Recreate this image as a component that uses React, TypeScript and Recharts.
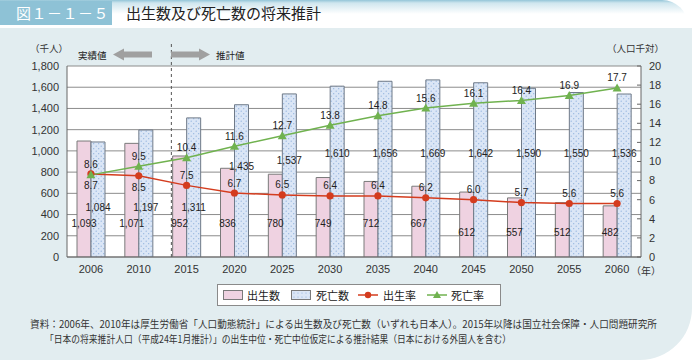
import React from 'react';
import {
  ComposedChart,
  Bar,
  Line,
  XAxis,
  YAxis,
  CartesianGrid,
  ReferenceLine,
  LabelList,
  Legend,
} from 'recharts';

// ---- data ----
const years = ['2006', '2010', '2015', '2020', '2025', '2030', '2035', '2040', '2045', '2050', '2055', '2060'];
const births = [1093, 1071, 952, 836, 780, 749, 712, 667, 612, 557, 512, 482];
const deaths = [1084, 1197, 1311, 1435, 1537, 1610, 1656, 1669, 1642, 1590, 1550, 1536];
const birthRate = [8.7, 8.5, 7.5, 6.7, 6.5, 6.4, 6.4, 6.2, 6.0, 5.7, 5.6, 5.6];
const deathRate = [8.6, 9.5, 10.4, 11.6, 12.7, 13.8, 14.8, 15.6, 16.1, 16.4, 16.9, 17.7];
const leftTicks = [0, 200, 400, 600, 800, 1000, 1200, 1400, 1600, 1800];
const rightTicks = [0, 2, 4, 6, 8, 10, 12, 14, 16, 18, 20];
const boundaryTicks = [1, 2, 3, 4, 5, 6, 7, 8, 9, 10, 11];
const splitIndex = 2; // boundary between actual (2006, 2010) and projected values

const data = years.map((y, i) => ({
  year: y,
  births: births[i],
  deaths: deaths[i],
  birthRate: birthRate[i],
  deathRate: deathRate[i],
}));

// ---- label styling (pixel lifts from the bar base) ----
const birthLabelLift = [34, 34, 34, 34, 34, 34, 34, 34, 25, 25, 25, 25];
const deathLabelLift = [50, 50, 50, 91, 97, 104, 104, 104, 104, 104, 104, 104];
const birthRateBelow = [true, true, false, false, false, false, false, false, false, false, false, false];

const PINK = '#efd2e1';
const BLUE = '#dbe6f6';
const RED = '#d43c1e';
const GREEN = '#70b24f';
const LATIN = '"Liberation Sans", Arial, sans-serif';
const CJK = '"Noto Sans CJK JP", "Noto Sans", sans-serif';

const fmt = (v: number) => v.toLocaleString('en-US');

const barLabel = (lift: number[]) => (p: any) => {
  const vb = p.viewBox || p;
  const x = Number(vb.x);
  const y = Number(vb.y);
  const w = Number(vb.width);
  const h = Number(vb.height);
  const bottom = y + h;
  return (
    <text
      x={x + w / 2}
      y={bottom - lift[p.index]}
      textAnchor="middle"
      dominantBaseline="central"
      fontSize={10}
      fontFamily={LATIN}
      fill="#222"
    >
      {fmt(Number(p.value))}
    </text>
  );
};

const rateLabel = (below: boolean[] | null) => (p: any) => {
  const isBelow = below ? below[p.index] : false;
  return (
    <text
      x={Number(p.x)}
      y={Number(p.y) + (isBelow ? 12 : -10)}
      textAnchor="middle"
      dominantBaseline="central"
      fontSize={10}
      fontFamily={LATIN}
      fill="#222"
    >
      {Number(p.value).toFixed(1)}
    </text>
  );
};

const Triangle = (p: any) => {
  const { cx, cy } = p;
  if (cx == null || cy == null) return <g />;
  return <path d={`M${cx},${cy - 4.5} L${cx + 4.5},${cy + 3.5} L${cx - 4.5},${cy + 3.5} Z`} fill={GREEN} />;
};

const Circle = (p: any) => {
  const { cx, cy } = p;
  if (cx == null || cy == null) return <g />;
  return <circle cx={cx} cy={cy} r={3.6} fill={RED} />;
};

const RightTick = (p: any) => (
  <g>
    <line x1={p.x - 12} x2={p.x - 8} y1={p.y} y2={p.y} stroke="#666" />
    <text x={p.x} y={p.y} dy="0.35em" textAnchor="start" fontSize={11} fontFamily={LATIN} fill="#333">
      {p.payload.value}
    </text>
  </g>
);

const LegendBox = () => (
  <svg width={284} height={22} style={{ display: 'block' }}>
    <defs>
      <pattern id="dotsL" width="4" height="4" patternUnits="userSpaceOnUse">
        <rect width="4" height="4" fill={BLUE} />
        <circle cx="1" cy="1" r="0.6" fill="#8fb0dc" />
      </pattern>
    </defs>
    <rect x={0.5} y={0.5} width={283} height={21} fill="#fff" stroke="#8a8a8a" />
    <rect x={6.5} y={6.5} width={19} height={9} fill={PINK} stroke="#7a7a7a" />
    <text x={30} y={11} dominantBaseline="central" fontSize={11} fontFamily={CJK} fill="#222">出生数</text>
    <rect x={74.5} y={6.5} width={19} height={9} fill="url(#dotsL)" stroke="#7a7a7a" />
    <text x={99} y={11} dominantBaseline="central" fontSize={11} fontFamily={CJK} fill="#222">死亡数</text>
    <line x1={141} x2={161} y1={11} y2={11} stroke={RED} strokeWidth={1.5} />
    <circle cx={151} cy={11} r={3.2} fill={RED} />
    <text x={166} y={11} dominantBaseline="central" fontSize={11} fontFamily={CJK} fill="#222">出生率</text>
    <line x1={210} x2={230} y1={11} y2={11} stroke={GREEN} strokeWidth={1.5} />
    <path d="M220,7 L224,14 L216,14 Z" fill={GREEN} />
    <text x={234} y={11} dominantBaseline="central" fontSize={11} fontFamily={CJK} fill="#222">死亡率</text>
  </svg>
);

export default function App() {
  return (
    <div
      style={{
        position: 'absolute',
        left: 0,
        top: 0,
        width: 694,
        height: 360,
        background: '#fff',
        overflow: 'hidden',
        fontFamily: CJK,
      }}
    >
      {/* light panel */}
      <div
        style={{
          position: 'absolute',
          left: 0,
          top: 28,
          width: 692,
          height: 332,
          background: '#e2edf0',
          borderBottomRightRadius: 52,
        }}
      />
      {/* title strip */}
      <div
        style={{
          position: 'absolute',
          left: 0,
          top: 0,
          width: 688,
          height: 26,
          background: 'linear-gradient(#93c5d8 0px, #cfe6ee 3px, #ffffff 14px)',
          borderTopRightRadius: 30,
        }}
      />
      <div
        style={{
          position: 'absolute',
          left: 0,
          top: 1,
          width: 112,
          height: 24,
          background: '#8ec2d6',
          color: '#fff',
          fontSize: 15,
          lineHeight: '24px',
          paddingLeft: 16,
          boxSizing: 'border-box',
          letterSpacing: 0.5,
        }}
      >
        図１－１－５
      </div>
      <div
        style={{
          position: 'absolute',
          left: 126,
          top: 1,
          height: 24,
          lineHeight: '24px',
          fontSize: 15,
          color: '#222',
          whiteSpace: 'nowrap',
        }}
      >
        出生数及び死亡数の将来推計
      </div>

      <div style={{ position: 'absolute', left: 0, top: 0 }}>
        <ComposedChart
          width={694}
          height={360}
          data={data}
          margin={{ top: 66, right: 0, bottom: 83, left: 0 }}
          barGap={0}
        >
          <defs>
            <pattern id="dots" width="5" height="5" patternUnits="userSpaceOnUse">
              <rect width="5" height="5" fill={BLUE} />
              <circle cx="1.2" cy="1.2" r="0.65" fill="#93b3de" />
              <circle cx="3.7" cy="3.7" r="0.65" fill="#93b3de" />
            </pattern>
          </defs>
          <CartesianGrid
            yAxisId="left"
            vertical={false}
            stroke="#8c8c8c"
            fill="#ffffff"
            fillOpacity={1}
          />
          <XAxis
            xAxisId="b"
            type="number"
            domain={[0, years.length]}
            allowDataOverflow
            ticks={boundaryTicks}
            interval={0}
            tickFormatter={() => ''}
            axisLine={false}
            tickLine={{ stroke: '#888' }}
            tickSize={4}
            mirror
            height={0}
          />
          <XAxis
            dataKey="year"
            axisLine={{ stroke: '#666' }}
            tickLine={false}
            height={20}
            tick={{ fontSize: 11, fill: '#333', fontFamily: LATIN }}
            interval={0}
          />
          <YAxis
            yAxisId="left"
            width={67}
            domain={[0, 1800]}
            ticks={leftTicks}
            interval={0}
            tickFormatter={(v: number) => fmt(v)}
            axisLine={{ stroke: '#666' }}
            tickLine={false}
            tick={{ fontSize: 11, fill: '#333', fontFamily: LATIN }}
            allowDataOverflow
          />
          <YAxis
            yAxisId="right"
            orientation="right"
            width={53}
            domain={[0, 20]}
            ticks={rightTicks}
            interval={0}
            axisLine={{ stroke: '#666' }}
            tickLine={false}
            tickSize={0}
            tickMargin={8}
            tick={<RightTick />}
          />
          <ReferenceLine
            xAxisId="b"
            yAxisId="left"
            segment={[
              { x: splitIndex, y: 0 },
              { x: splitIndex, y: 2010 },
            ]}
            ifOverflow="visible"
            stroke="#555"
            strokeDasharray="3 3"
          />
          <Bar yAxisId="left" dataKey="births" barSize={14} fill={PINK} stroke="#7a7a7a" strokeWidth={1} isAnimationActive={false}>
            <LabelList dataKey="births" content={barLabel(birthLabelLift)} />
          </Bar>
          <Bar yAxisId="left" dataKey="deaths" barSize={14} fill="url(#dots)" stroke="#6f7a88" strokeWidth={1} isAnimationActive={false}>
            <LabelList dataKey="deaths" content={barLabel(deathLabelLift)} />
          </Bar>
          <Line
            yAxisId="right"
            dataKey="birthRate"
            stroke={RED}
            strokeWidth={1.5}
            dot={<Circle />}
            activeDot={false}
            isAnimationActive={false}
          >
            <LabelList dataKey="birthRate" content={rateLabel(birthRateBelow)} />
          </Line>
          <Line
            yAxisId="right"
            dataKey="deathRate"
            stroke={GREEN}
            strokeWidth={1.5}
            dot={<Triangle />}
            activeDot={false}
            isAnimationActive={false}
          >
            <LabelList dataKey="deathRate" content={rateLabel(null)} />
          </Line>
          <Legend
            layout="horizontal"
            verticalAlign="middle"
            align="center"
            content={<LegendBox />}
            wrapperStyle={{ left: 217, top: 284, width: 284, height: 22 }}
          />
        </ComposedChart>
      </div>

      {/* annotations */}
      <svg
        width={694}
        height={360}
        style={{ position: 'absolute', left: 0, top: 0, pointerEvents: 'none' }}
      >
        <text x={30} y={48} dominantBaseline="central" fontSize={9.5} fontFamily={CJK} fill="#333">（千人）</text>
        <text x={664} y={48} dominantBaseline="central" textAnchor="end" fontSize={9.5} fontFamily={CJK} fill="#333">（人口千対）</text>
        <text x={78} y={55} dominantBaseline="central" fontSize={9.5} fontFamily={CJK} fill="#222">実績値</text>
        <text x={216} y={55} dominantBaseline="central" fontSize={9.5} fontFamily={CJK} fill="#222">推計値</text>
        <path d="M113,54.5 L124,48.5 L124,51.5 L152,51.5 L152,57.5 L124,57.5 L124,60.5 Z" fill="#a0a0a0" />
        <path d="M210,54.5 L199,48.5 L199,51.5 L171,51.5 L171,57.5 L199,57.5 L199,60.5 Z" fill="#a0a0a0" />
        <text x={631} y={270} dominantBaseline="central" fontSize={10} fontFamily={CJK} fill="#333">（年）</text>
        <text x={30} y={323} dominantBaseline="central" fontSize={10} fontFamily={CJK} fill="#333" textLength={627} lengthAdjust="spacingAndGlyphs">
          資料：2006年、2010年は厚生労働省「人口動態統計」による出生数及び死亡数（いずれも日本人）。2015年以降は国立社会保障・人口問題研究所
        </text>
        <text x={45} y={338} dominantBaseline="central" fontSize={10} fontFamily={CJK} fill="#333" textLength={466} lengthAdjust="spacingAndGlyphs">
          「日本の将来推計人口（平成24年1月推計）」の出生中位・死亡中位仮定による推計結果（日本における外国人を含む）
        </text>
      </svg>
    </div>
  );
}
